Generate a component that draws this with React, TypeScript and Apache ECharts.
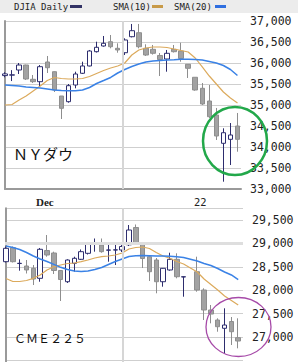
import React, { useEffect, useRef } from 'react';
import * as echarts from 'echarts';

// ---- NY Dow (DJIA daily) ----
const djiaOpen = [35700, 35712, 35833, 35952, 35612, 35555, 36024, 35793, 35214, 35079, 35476, 35755, 35929, 36269, 36405, 36507, 36350, 36245, 36626, 36721, 36350, 36326, 36179, 36095, 36326, 36286, 35969, 35660, 35398, 35095, 34762, 34088, 34183, 34500];
const djiaClose = [35740, 35718, 35952, 35619, 35555, 35912, 35888, 35357, 34921, 35460, 35738, 35929, 36286, 36374, 36469, 36388, 36310, 36548, 36769, 36388, 36190, 36231, 36083, 36231, 36269, 36107, 35874, 35357, 35024, 34721, 34262, 34340, 34286, 34183];
const djiaLow = [35660, 35570, 35738, 35595, 35524, 35436, 35762, 35310, 34667, 35055, 35398, 35738, 35920, 36250, 36390, 36350, 36245, 36190, 36610, 36350, 36167, 36200, 35690, 35793, 36250, 36031, 35643, 35340, 35000, 34690, 34167, 33174, 33571, 33888];
const djiaHigh = [35780, 35830, 36000, 35960, 35714, 35952, 36167, 35800, 35214, 35500, 35793, 36031, 36310, 36507, 36643, 36667, 36469, 36588, 36929, 36929, 36445, 36429, 36238, 36310, 36429, 36483, 35969, 35660, 35524, 35476, 34929, 34445, 34571, 34810];
const djiaSma10 = [35000, 35012, 35119, 35214, 35333, 35452, 35583, 35655, 35631, 35619, 35619, 35631, 35679, 35750, 35821, 35881, 35929, 36000, 36190, 36310, 36357, 36381, 36381, 36369, 36333, 36298, 36262, 36119, 35905, 35690, 35500, 35310, 35167, 35048];
const djiaSma20 = [35476, 35464, 35452, 35429, 35417, 35405, 35381, 35357, 35345, 35340, 35340, 35357, 35417, 35512, 35583, 35655, 35762, 35845, 35917, 35976, 36024, 36048, 36060, 36071, 36079, 36088, 36088, 36083, 36071, 36036, 36000, 35940, 35845, 35702];

// ---- CME Nikkei 225 futures (null = no session) ----
const cmeOpen = [28609, 28908, 28570, 28517, 28468, 28254, 28848, 28795, 28421, 28181, 28575, 28660, 28788, 29000, 28966, 28855, 28859, 28859, 28970, 29340, 29002, 28716, 28645, 28181, 28432, 28660, 28282, null, 28395, 28004, 27577, 27363, 27186, 27331, 26985];
const cmeClose = [28895, 28609, 28575, 28432, 28239, 28874, 28752, 28421, 28228, 28645, 28682, 28823, 28987, 29005, 28823, 28859, 28862, 28934, 29286, 29002, 28677, 28395, 28181, 28468, 28660, 28288, 28288, null, 28004, 27577, 27491, 27220, 27256, 27113, 26914];
const cmeLow = [28592, 28592, 28417, 28357, 28111, 28181, 28716, 28346, 27769, 28154, 28395, 28645, 28763, 28823, 28801, 28609, 28538, 28816, 28944, 28966, 28474, 28196, 27934, 28075, 28417, 28254, 27861, null, 27968, 27363, 27292, 27113, 26651, 26829, 26758];
const cmeHigh = [28934, 28934, 28660, 28645, 28538, 28902, 29179, 28823, 28432, 28660, 28716, 28870, 29030, 29105, 29105, 28966, 29002, 28987, 29393, 29404, 29030, 28752, 28688, 28474, 28801, 28788, 28292, null, 28716, 28040, 27684, 27399, 27613, 27427, 27399];
const cmeSma10 = [28250, 28186, 28186, 28207, 28254, 28325, 28432, 28502, 28538, 28570, 28581, 28609, 28645, 28688, 28716, 28731, 28752, 28795, 28880, 28912, 28923, 28891, 28805, 28731, 28682, 28613, 28560, null, 28389, 28239, 28122, 28004, 27876, 27780, 27684];
const cmeSma20 = [28944, 28912, 28870, 28805, 28731, 28667, 28613, 28553, 28489, 28442, 28410, 28399, 28410, 28442, 28485, 28549, 28613, 28667, 28720, 28737, 28741, 28737, 28731, 28731, 28724, 28716, 28699, null, 28624, 28570, 28528, 28464, 28389, 28325, 28228];

const topTicks = { min: 33000, max: 37000, step: 500 };
const bottomTicks = { min: 26000, max: 29750, step: 500, firstLabel: 27000 };
const axisLabelsText = { left: 'Dec', right: '22' };

const NAVY = '#2d2d6e';
const GRAY = '#a2a2a2';
const GRAY_B = '#8e8e8e';
const TAN = '#dcaa5c';
const BLUE = '#3a82e6';

function ohlc(o: (number | null)[], c: (number | null)[], l: (number | null)[], h: (number | null)[]) {
  const out: number[][] = [];
  o.forEach((v, i) => {
    if (v == null) return;
    out.push([i, v as number, c[i] as number, l[i] as number, h[i] as number]);
  });
  return out;
}
function pts(a: (number | null)[]) {
  const out: number[][] = [];
  a.forEach((v, i) => {
    if (v == null) return;
    out.push([i, v]);
  });
  return out;
}
const fmt = (v: number) => v.toLocaleString('en-US');

export default function App() {
  const ref = useRef<HTMLDivElement>(null);
  useEffect(() => {
    document.body.style.margin = '0';
    const chart = echarts.init(ref.current!, undefined, { renderer: 'svg' });
    const labelStyle = {
      margin: 9,
      color: '#222',
      fontFamily: 'DejaVu Sans Mono',
      fontSize: 11.5,
      formatter: (v: number) => fmt(v),
    };
    const candleStyle = {
      color: '#ffffff',
      color0: GRAY,
      borderColor: NAVY,
      borderColor0: GRAY_B,
      borderColorDoji: NAVY,
      borderWidth: 1,
    };
    const option: any = {
      animation: false,
      backgroundColor: '#ffffff',
      grid: [
        { left: 5, top: 21, width: 236, height: 168 },
        { left: 5, top: 208.3, width: 238, height: 175.5 },
      ],
      xAxis: [
        {
          gridIndex: 0, type: 'value', min: 0, max: 33.5,
          axisLine: { show: true, onZero: false, lineStyle: { color: '#9a9a9a', width: 2 } },
          axisTick: { show: false }, axisLabel: { show: false }, splitLine: { show: false },
        },
        {
          gridIndex: 1, type: 'value', min: -0.15, max: 34.7,
          axisLine: { show: false }, axisTick: { show: false }, axisLabel: { show: false }, splitLine: { show: false },
        },
      ],
      yAxis: [
        {
          gridIndex: 0, type: 'value', position: 'right',
          min: topTicks.min, max: topTicks.max, interval: topTicks.step,
          axisLine: { show: true, lineStyle: { color: '#9a9a9a', width: 2 } },
          axisTick: { show: false },
          axisLabel: labelStyle,
          splitLine: { show: true, lineStyle: { color: '#cfcfcf', width: 1 } },
        },
        {
          gridIndex: 1, type: 'value', position: 'right',
          min: bottomTicks.min, max: bottomTicks.max, interval: bottomTicks.step,
          axisLine: { show: true, lineStyle: { color: '#9a9a9a', width: 2 } },
          axisTick: { show: false },
          axisLabel: {
            ...labelStyle, showMaxLabel: false, showMinLabel: false,
            formatter: (v: number) => (v < bottomTicks.firstLabel ? '' : fmt(v)),
          },
          splitLine: { show: true, lineStyle: { color: '#cfcfcf', width: 1 } },
        },
      ],
      series: [
        {
          type: 'candlestick', name: 'DJIA Daily', xAxisIndex: 0, yAxisIndex: 0,
          barWidth: 5, itemStyle: candleStyle,
          data: ohlc(djiaOpen, djiaClose, djiaLow, djiaHigh),
          markLine: {
            silent: true, symbol: 'none', label: { show: false },
            lineStyle: { color: '#d6d6d6', width: 2, type: 'solid' },
            data: [{ xAxis: 16.76 }],
          },
        },
        {
          type: 'line', name: 'SMA(10)', xAxisIndex: 0, yAxisIndex: 0, showSymbol: false,
          lineStyle: { color: TAN, width: 1.2 }, data: pts(djiaSma10), z: 3,
        },
        {
          type: 'line', name: 'SMA(20)', xAxisIndex: 0, yAxisIndex: 0, showSymbol: false,
          lineStyle: { color: BLUE, width: 1.5 }, data: pts(djiaSma20), z: 3,
        },
        {
          type: 'candlestick', name: 'CME225', xAxisIndex: 1, yAxisIndex: 1,
          barWidth: 5, itemStyle: candleStyle,
          data: ohlc(cmeOpen, cmeClose, cmeLow, cmeHigh),
          markLine: {
            silent: true, symbol: 'none', label: { show: false },
            data: [
              { xAxis: 17.06, lineStyle: { color: '#d6d6d6', width: 2, type: 'solid' } },
              { yAxis: 29000, lineStyle: { color: '#dedede', width: 3, type: 'solid' } },
            ],
          },
        },
        {
          type: 'line', name: 'CME SMA(10)', xAxisIndex: 1, yAxisIndex: 1, showSymbol: false, connectNulls: true,
          lineStyle: { color: TAN, width: 1.2 }, data: pts(cmeSma10), z: 3,
        },
        {
          type: 'line', name: 'CME SMA(20)', xAxisIndex: 1, yAxisIndex: 1, showSymbol: false, connectNulls: true,
          lineStyle: { color: BLUE, width: 1.5 }, data: pts(cmeSma20), z: 3,
        },
      ],
      graphic: [
        { type: 'rect', shape: { x: 0, y: 0, width: 298, height: 13 }, style: { fill: '#ececec' }, z: 10 },
        { type: 'text', x: 14, y: 7, style: { text: 'DJIA Daily', fontFamily: 'DejaVu Sans Mono', fontSize: 9, fill: '#222', verticalAlign: 'middle' }, z: 11 },
        { type: 'rect', shape: { x: 70, y: 5, width: 12, height: 3 }, style: { fill: '#333366' }, z: 11 },
        { type: 'text', x: 113, y: 7, style: { text: 'SMA(10)', fontFamily: 'DejaVu Sans Mono', fontSize: 9, fill: '#222', verticalAlign: 'middle' }, z: 11 },
        { type: 'rect', shape: { x: 152, y: 5, width: 11, height: 3 }, style: { fill: '#c89a48' }, z: 11 },
        { type: 'text', x: 174, y: 7, style: { text: 'SMA(20)', fontFamily: 'DejaVu Sans Mono', fontSize: 9, fill: '#222', verticalAlign: 'middle' }, z: 11 },
        { type: 'rect', shape: { x: 215, y: 5, width: 11, height: 3 }, style: { fill: '#2f6fe0' }, z: 11 },
        { type: 'text', x: 36, y: 202, style: { text: axisLabelsText.left, fontFamily: 'Liberation Serif', fontSize: 11, fontWeight: 'bold', fill: '#222', verticalAlign: 'middle' }, z: 11 },
        { type: 'text', x: 194, y: 202, style: { text: axisLabelsText.right, fontFamily: 'DejaVu Sans', fontSize: 10, fill: '#222', verticalAlign: 'middle' }, z: 11 },
        { type: 'text', x: 13, y: 153, style: { text: 'ＮＹダウ', fontFamily: 'Noto Sans CJK JP', fontSize: 15, fill: '#111', verticalAlign: 'middle' }, z: 11 },
        { type: 'text', x: 14, y: 337, style: { text: 'ＣＭＥ２２５', fontFamily: 'Noto Sans CJK JP', fontSize: 12, fill: '#111', verticalAlign: 'middle' }, z: 11 },
        { type: 'ellipse', shape: { cx: 235, cy: 141, rx: 32, ry: 34 }, style: { fill: 'none', stroke: '#22a84a', lineWidth: 2.5 }, z: 12 },
        { type: 'ellipse', shape: { cx: 238.5, cy: 327, rx: 32.5, ry: 29.5 }, style: { fill: 'none', stroke: '#a64aa8', lineWidth: 1.3 }, z: 12 },
      ],
    };
    chart.setOption(option);
    return () => chart.dispose();
  }, []);
  return (
    <div style={{ width: 298, height: 362, overflow: 'hidden' }}>
      <div ref={ref} style={{ width: 298, height: 400 }} />
    </div>
  );
}
